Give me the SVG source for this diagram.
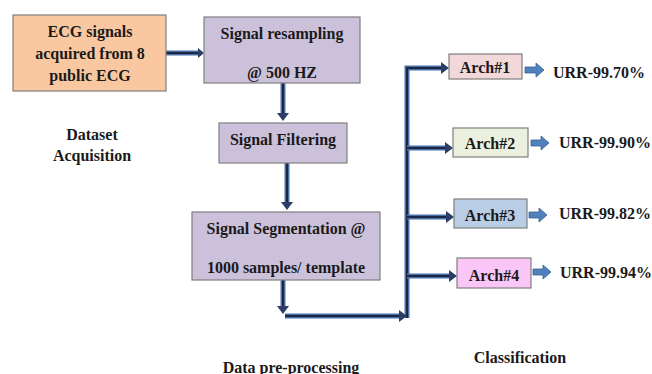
<svg xmlns="http://www.w3.org/2000/svg" width="652" height="374" viewBox="0 0 652 374">
<style>
text{font-family:"Liberation Serif","Times New Roman",serif;font-weight:bold;font-size:16px;fill:#1a1a1a;text-anchor:middle;dominant-baseline:central}
.box{stroke:#7f7f7f;stroke-width:1.2}
.lo{fill:none;stroke:#4a6fa5;stroke-width:5}
.li{fill:none;stroke:#1c2745;stroke-width:2}
.ah{fill:#2c3e66}
.ba{fill:#4f81bd;stroke:#3a5f8f;stroke-width:0.8}
</style>
<rect width="652" height="374" fill="#ffffff"/>
<g id="connectors">
<path class="lo" d="M166 53H201"/><path class="li" d="M166 53H201"/>
<path class="lo" d="M283 83V116"/><path class="li" d="M283 83V116"/>
<path class="lo" d="M287 163V204"/><path class="li" d="M287 163V204"/>
<path class="lo" d="M283 280V309"/><path class="li" d="M283 280V309"/>
<path class="lo" d="M285 316H402"/><path class="li" d="M285 316H402"/>
<path class="lo" d="M407 318V68H443"/><path class="li" d="M407 318V68H443"/>
<path class="lo" d="M407 148H448"/><path class="li" d="M407 148H448"/>
<path class="lo" d="M407 217H449"/><path class="li" d="M407 217H449"/>
<path class="lo" d="M407 276H452"/><path class="li" d="M407 276H452"/>
<polygon class="ah" points="204,53 198,48 198,58"/>
<polygon class="ah" points="283,121 277,113 289,113"/>
<polygon class="ah" points="287,210 281,202 293,202"/>
<polygon class="ah" points="283,314 277,306 289,306"/>
<polygon class="ah" points="407,316 399,310 399,322"/>
<polygon class="ah" points="449,68 441,62 441,74"/>
<polygon class="ah" points="453,148 445,142 445,154"/>
<polygon class="ah" points="454,217 446,211 446,223"/>
<polygon class="ah" points="457,276 449,270 449,282"/>
<polygon class="ba" points="525,67 536,67 536,63 544,70 536,77 536,73 525,73"/>
<polygon class="ba" points="531,140 541,140 541,136 549,143 541,150 541,146 531,146"/>
<polygon class="ba" points="529,212 539,212 539,208 547,215 539,222 539,218 529,218"/>
<polygon class="ba" points="533,269 543,269 543,265 551,272 543,279 543,275 533,275"/>
</g>
<g id="ecg">
<rect class="box" x="13" y="15" width="153" height="76" fill="#fac8a0"/>
<text x="90" y="31">ECG signals</text>
<text x="90" y="53">acquired from 8</text>
<text x="90" y="75">public ECG</text>
</g>
<g id="dataset-label">
<text x="92" y="134">Dataset</text>
<text x="92" y="155">Acquisition</text>
</g>
<g id="resampling">
<rect class="box" x="204" y="17" width="156" height="66" fill="#ccc1db"/>
<text x="282" y="33">Signal resampling</text>
<text x="282" y="72">@ 500 HZ</text>
</g>
<g id="filtering">
<rect class="box" x="219" y="123" width="128" height="40" fill="#ccc1db"/>
<text x="283" y="139">Signal Filtering</text>
</g>
<g id="segmentation">
<rect class="box" x="192" y="212" width="188" height="68" fill="#ccc1db"/>
<text x="286" y="228">Signal Segmentation @</text>
<text x="286" y="267">1000 samples/ template</text>
</g>
<g id="preproc-label">
<text x="291" y="367">Data pre-processing</text>
</g>
<g id="arch1">
<rect class="box" x="449" y="54" width="73" height="25" fill="#f2d8d8"/>
<text x="485" y="67">Arch#1</text>
</g>
<g id="arch2">
<rect class="box" x="453" y="128" width="75" height="29" fill="#ebf1de"/>
<text x="490" y="143">Arch#2</text>
</g>
<g id="arch3">
<rect class="box" x="454" y="199" width="73" height="29" fill="#b9cde5"/>
<text x="490" y="215">Arch#3</text>
</g>
<g id="arch4">
<rect class="box" x="457" y="258" width="74" height="30" fill="#f9c6f7"/>
<text x="494" y="275">Arch#4</text>
</g>
<g id="results">
<text x="599" y="72">URR-99.70%</text>
<text x="605" y="142">URR-99.90%</text>
<text x="605" y="213">URR-99.82%</text>
<text x="606" y="272">URR-99.94%</text>
</g>
<g id="class-label">
<text x="520" y="357">Classification</text>
</g>
</svg>
